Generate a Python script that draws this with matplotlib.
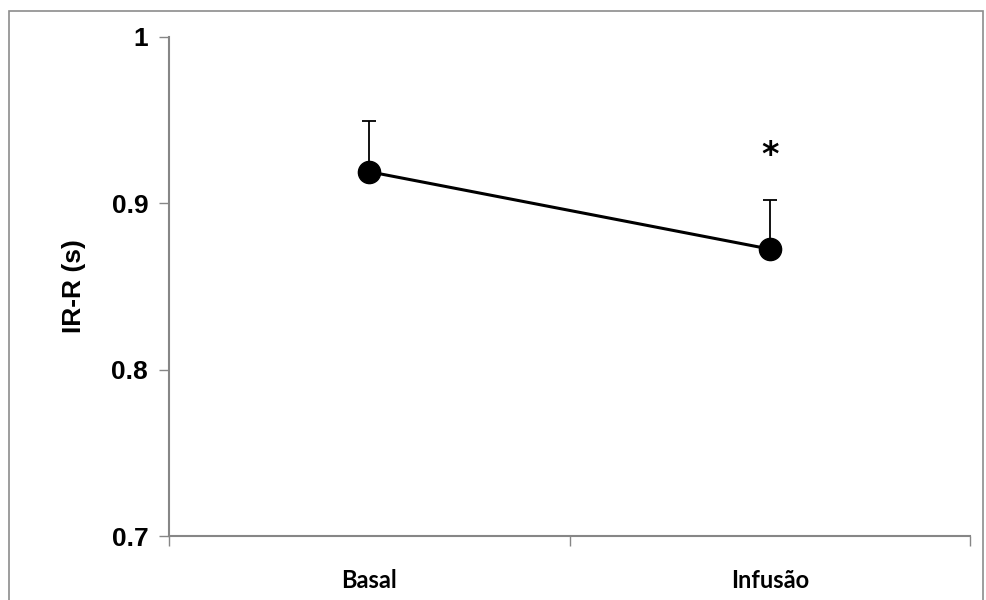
import matplotlib.pyplot as plt
from matplotlib.patches import Rectangle

categories = ['Basal', 'Infusão']
ir_r = [0.919, 0.8725]
err_up = [0.0305, 0.0295]
star_y = 0.929

fig = plt.figure(figsize=(9.86, 6), dpi=100)
ax = fig.add_axes([169/986, 1 - 536/600, 801/986, 499/600])

xs = [0.5, 1.5]
ax.errorbar(xs, ir_r, yerr=[[0, 0], err_up], fmt='none', ecolor='black',
            elinewidth=1.3, capsize=5, capthick=1.3)
ax.plot(xs, ir_r, color='black', lw=2.2, marker='o', markersize=16, zorder=3)
ax.text(xs[1], star_y, '*', ha='center', va='center', fontsize=24,
        fontweight='bold', family='DejaVu Sans')

ax.set_xlim(0, 2)
ax.set_ylim(0.7, 1.0)
ax.set_yticks([0.7, 0.8, 0.9, 1.0])
ax.set_yticklabels(['0.7', '0.8', '0.9', '1'])
ax.set_xticks([0, 1, 2])
ax.set_xticklabels([])
ax.set_xticks(xs, minor=True)
ax.set_xticklabels(categories, minor=True, fontsize=17, fontweight='bold',
                   family='Lato')
ax.tick_params(axis='x', which='minor', length=0, pad=24)
ax.tick_params(axis='x', which='major', length=7, color='#868686', width=1)
ax.tick_params(axis='y', length=7, color='#868686', width=1, pad=8)
for lab in ax.get_yticklabels():
    lab.set_fontsize(19)
    lab.set_fontweight('bold')
    lab.set_family('Liberation Sans')

for s in ['top', 'right']:
    ax.spines[s].set_visible(False)
for s in ['left', 'bottom']:
    ax.spines[s].set_color('#868686')
    ax.spines[s].set_linewidth(1.5)

ax.set_ylabel('IR-R (s)', fontsize=19, fontweight='bold',
              family='Liberation Sans', labelpad=18)

fig.patches.append(Rectangle((9/986, -0.01), 974/986, 1 - 11/600 + 0.01,
                             transform=fig.transFigure, fill=False,
                             edgecolor='#8c8c8c', lw=1.2))

fig.savefig('out.png', dpi=100)
